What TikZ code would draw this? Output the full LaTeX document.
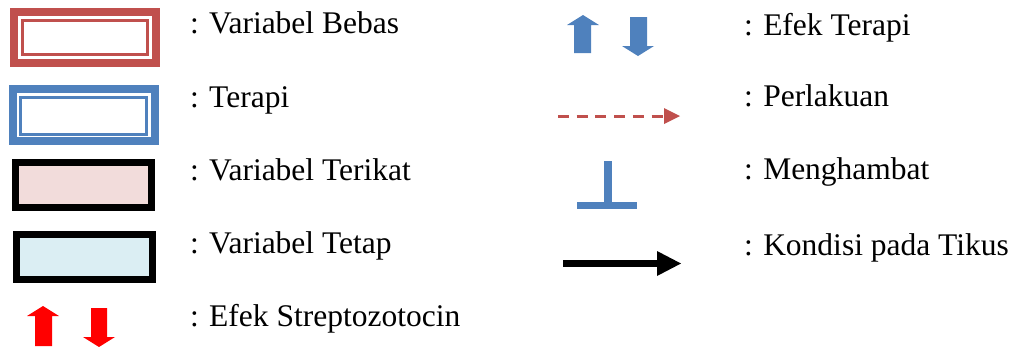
\documentclass[tikz,border=0pt]{standalone}
\usepackage{fontspec}
\setmainfont{LiberationSerif}[Extension=.ttf, UprightFont=*-Regular, BoldFont=*-Bold]
\definecolor{cred}{HTML}{C0504D}
\definecolor{cblue}{HTML}{4F81BD}
\definecolor{cpink}{HTML}{F2DCDB}
\definecolor{clblue}{HTML}{DBEEF3}
\definecolor{bred}{HTML}{FF0000}
\tikzset{
  box/.style={rectangle, inner sep=0pt, outer sep=0pt},
  lbl/.style={anchor=base west, inner sep=0pt, outer sep=0pt, font=\rmfamily\fontsize{31.5}{36}\selectfont},
}
\begin{document}
\begin{tikzpicture}[x=1pt,y=-1pt]
\useasboundingbox (0,0) rectangle (1013,346);
% Variabel Bebas (red double border)
\node[box, draw=cred, line width=8pt, minimum width=141.5pt, minimum height=51pt] (vbo) at (84.75,37.5) {};
\node[box, draw=cred, line width=3pt, minimum width=125pt, minimum height=34pt] (vbi) at (85,37.5) {};
% Terapi (blue double border)
\node[box, draw=cblue, line width=8pt, minimum width=141.5pt, minimum height=51.5pt] (tro) at (83.75,114.75) {};
\node[box, draw=cblue, line width=3pt, minimum width=126pt, minimum height=36.5pt] (tri) at (83.5,115.75) {};
% Variabel Terikat
\node[box, draw=black, fill=cpink, line width=7pt, minimum width=136pt, minimum height=45pt] (vt) at (83.5,185) {};
% Variabel Tetap
\node[box, draw=black, fill=clblue, line width=7pt, minimum width=136pt, minimum height=45pt] (vtp) at (84.5,257) {};
% red arrows (Efek Streptozotocin)
\fill[bred] (35,346) -- (35,316) -- (27,316) -- (43,306) -- (59,316) -- (52,316) -- (52,346) -- cycle;
\fill[bred] (91,308) -- (107,308) -- (107,337) -- (115,337) -- (99,347) -- (83,337) -- (91,337) -- cycle;
% blue arrows (Efek Terapi)
\fill[cblue] (574,53) -- (574,25) -- (567,25) -- (583,15) -- (599,25) -- (591,25) -- (591,53) -- cycle;
\fill[cblue] (630,17) -- (647,17) -- (647,46) -- (654,46) -- (638,56) -- (622,46) -- (630,46) -- cycle;
% Perlakuan (dashed red arrow)
\coordinate (pa) at (558,116);
\coordinate (pb) at (664,116);
\draw[cred, line width=3pt, dash pattern=on 11pt off 7.7pt] (pa) -- (pb);
\fill[cred] (664,108) -- (680,116) -- (664,124) -- cycle;
% Menghambat
\coordinate (ma) at (608,161);
\coordinate (mb) at (608,202);
\coordinate (mc) at (577,205.5);
\coordinate (md) at (637,205.5);
\draw[cblue, line width=8pt] (ma) -- (mb);
\draw[cblue, line width=7pt] (mc) -- (md);
% Kondisi pada Tikus
\coordinate (ka) at (563,263.5);
\coordinate (kb) at (658,263.5);
\draw[black, line width=7.5pt] (ka) -- (kb);
\fill[black] (657,251) -- (681,263.5) -- (657,276) -- cycle;
% labels
\node[lbl] (t1) at (190,33) {: Variabel Bebas};
\node[lbl] (t2) at (190,107) {: Terapi};
\node[lbl] (t3) at (190,180) {: Variabel Terikat};
\node[lbl] (t4) at (190,253) {: Variabel Tetap};
\node[lbl] (t5) at (190,326) {: Efek Streptozotocin};
\node[lbl] (r1) at (744,35) {: Efek Terapi};
\node[lbl] (r2) at (744,106) {: Perlakuan};
\node[lbl] (r3) at (744,179) {: Menghambat};
\node[lbl] (r4) at (744,255) {: Kondisi pada Tikus};
\end{tikzpicture}
\end{document}
